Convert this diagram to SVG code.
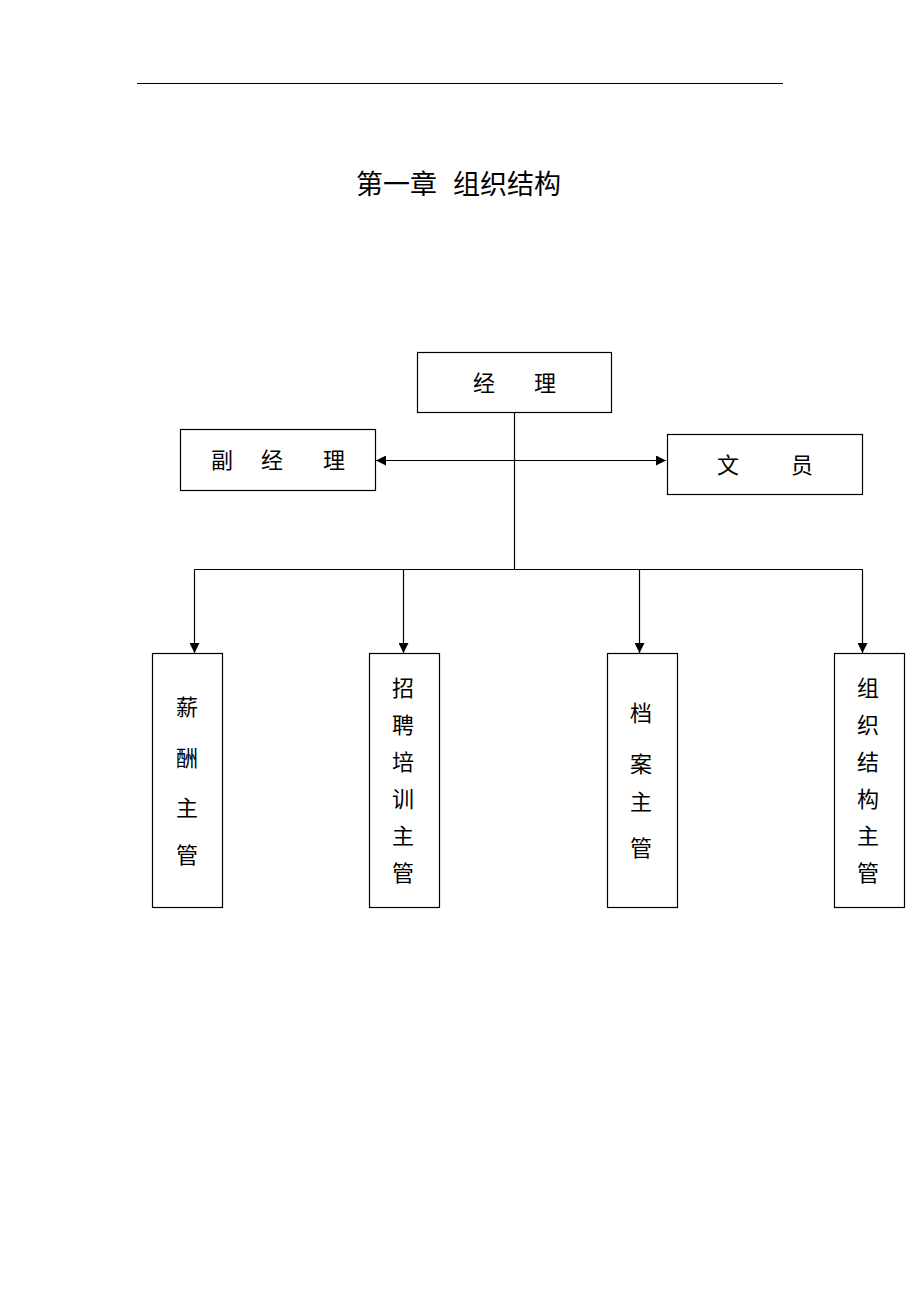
<svg xmlns="http://www.w3.org/2000/svg" width="920" height="1302" viewBox="0 0 920 1302">
<style>
.box{fill:#fff;stroke:#000;stroke-width:1.2}
.ln{fill:none;stroke:#000;stroke-width:1.2}
.t{font-family:"Liberation Sans","Noto Sans CJK SC",sans-serif;font-size:22px;fill:#000;text-anchor:middle;dominant-baseline:central}
.title{font-family:"Liberation Sans","Noto Sans CJK SC",sans-serif;font-size:27px;fill:#000}
</style>
<defs>
<marker id="ah" viewBox="0 0 10 10" refX="10" refY="5" markerWidth="10" markerHeight="10" markerUnits="userSpaceOnUse" orient="auto-start-reverse">
<path d="M0,0 L10,5 L0,10 z" fill="#000"/>
</marker>
</defs>
<rect width="920" height="1302" fill="#fff"/>
<line x1="137" y1="83.5" x2="783" y2="83.5" stroke="#000" stroke-width="1.2"/>
<text class="title" x="356" y="194">第一章</text>
<text class="title" x="453" y="194">组织结构</text>
<g id="connectors">
<line class="ln" x1="376" y1="460.5" x2="666" y2="460.5" marker-start="url(#ah)" marker-end="url(#ah)"/>
<line class="ln" x1="514.5" y1="412" x2="514.5" y2="569.5"/>
<line class="ln" x1="194.5" y1="569.5" x2="862.5" y2="569.5"/>
<line class="ln" x1="194.5" y1="569.5" x2="194.5" y2="653" marker-end="url(#ah)"/>
<line class="ln" x1="403.5" y1="569.5" x2="403.5" y2="653" marker-end="url(#ah)"/>
<line class="ln" x1="639.5" y1="569.5" x2="639.5" y2="653" marker-end="url(#ah)"/>
<line class="ln" x1="862.5" y1="569.5" x2="862.5" y2="653" marker-end="url(#ah)"/>
</g>
<g id="manager">
<rect class="box" x="417.5" y="352.5" width="194" height="60"/>
<text class="t" x="484" y="383">经</text><text class="t" x="545" y="383">理</text>
</g>
<g id="deputy">
<rect class="box" x="180.5" y="429.5" width="195" height="61"/>
<text class="t" x="222" y="460">副</text><text class="t" x="272" y="460">经</text><text class="t" x="334" y="460">理</text>
</g>
<g id="clerk">
<rect class="box" x="667.5" y="434.5" width="195" height="60"/>
<text class="t" x="728" y="465">文</text><text class="t" x="802" y="465">员</text>
</g>
<g id="salary">
<rect class="box" x="152.5" y="653.5" width="70" height="254"/>
<text class="t" x="187" y="707">薪</text><text class="t" x="187" y="758">酬</text><text class="t" x="187" y="808">主</text><text class="t" x="187" y="855">管</text>
</g>
<g id="recruit">
<rect class="box" x="369.5" y="653.5" width="70" height="254"/>
<text class="t" x="403" y="688">招</text><text class="t" x="403" y="725">聘</text><text class="t" x="403" y="762">培</text><text class="t" x="403" y="799">训</text><text class="t" x="403" y="836">主</text><text class="t" x="403" y="873">管</text>
</g>
<g id="archive">
<rect class="box" x="607.5" y="653.5" width="70" height="254"/>
<text class="t" x="641" y="713">档</text><text class="t" x="641" y="764">案</text><text class="t" x="641" y="802">主</text><text class="t" x="641" y="848">管</text>
</g>
<g id="org">
<rect class="box" x="834.5" y="653.5" width="70" height="254"/>
<text class="t" x="868" y="688">组</text><text class="t" x="868" y="725">织</text><text class="t" x="868" y="762">结</text><text class="t" x="868" y="799">构</text><text class="t" x="868" y="836">主</text><text class="t" x="868" y="873">管</text>
</g>
</svg>
